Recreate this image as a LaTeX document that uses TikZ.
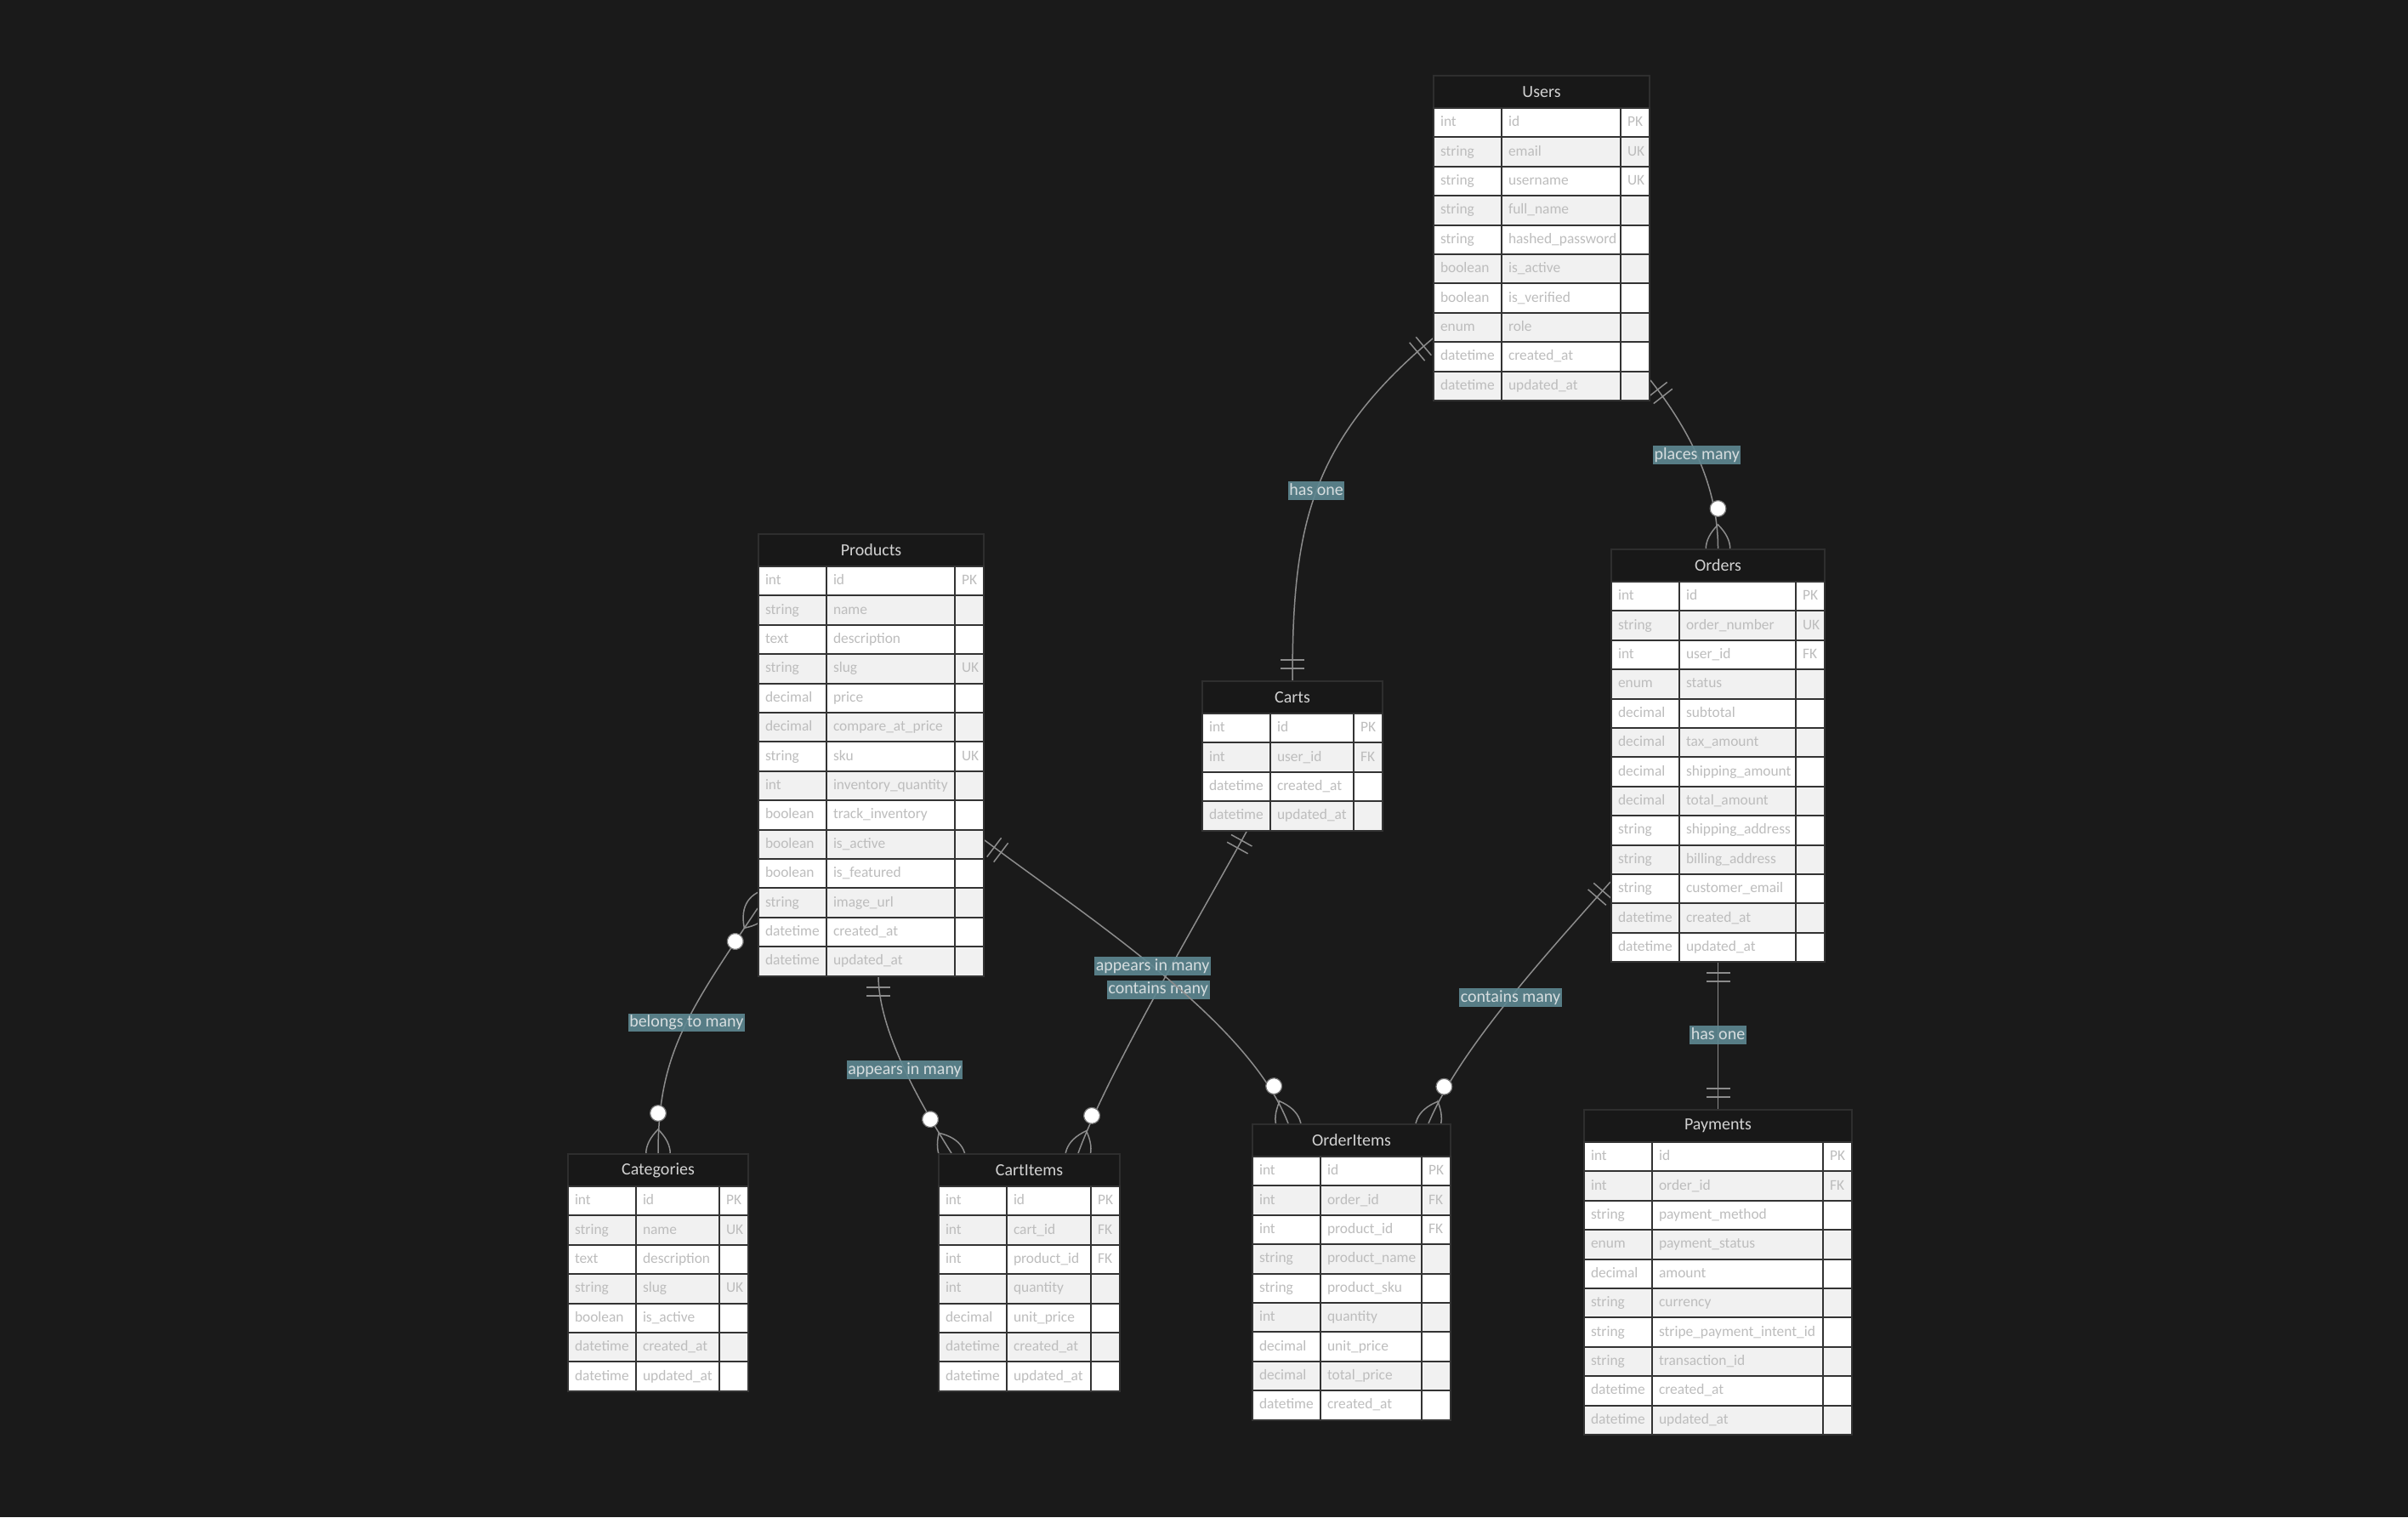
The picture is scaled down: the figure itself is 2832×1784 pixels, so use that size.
\documentclass[tikz,border=0pt]{standalone}
\usepackage{fontspec}
\setmainfont{Carlito}
\usepackage{tikz}
\usetikzlibrary{calc}

\definecolor{bgdark}{HTML}{1A1A1A}
\definecolor{headfill}{HTML}{181818}
\definecolor{headline}{HTML}{2E2E2E}
\definecolor{headtext}{HTML}{D2D2D2}
\definecolor{rowgray}{HTML}{F1F1F1}
\definecolor{cellline}{HTML}{333333}
\definecolor{celltext}{HTML}{BDBDBD}
\definecolor{relgray}{HTML}{8C8C8C}
\definecolor{dotline}{HTML}{777777}
\definecolor{labelteal}{RGB}{94,136,146}
\definecolor{labeltext}{HTML}{D6DDDF}

\pgfdeclarelayer{bg}
\pgfdeclarelayer{edges}
\pgfsetlayers{bg,edges,main}

\tikzset{
  header/.style={draw=headline, line width=1pt, fill=headfill, text=headtext,
    font=\fontsize{10}{12}\selectfont, minimum height=19pt, inner sep=0pt, anchor=north west},
  cell/.style={draw=cellline, line width=1pt, text=celltext, font=\fontsize{8.7}{10}\selectfont,
    minimum height=17.2pt, inner xsep=4pt, inner ysep=0pt, align=left,
    text height=6.2pt, text depth=1.8pt, anchor=north west},
  relline/.style={draw=relgray, line width=0.75pt},
  edgelabel/.style={fill=labelteal, fill opacity=0.9, text opacity=1, text=labeltext,
    font=\fontsize{10}{12}\selectfont, inner xsep=0.8pt, inner ysep=0.6pt,
    text height=7.4pt, text depth=2.2pt},
  onlyone/.pic={\draw[relline] (14,-14) -- (14,14) (24,-14) -- (24,14);},
  zeromany/.pic={
    \draw[relline] (28,0) .. controls (9,19) and (-10,19) .. (-29,0)
      .. controls (-10,-19) and (9,-19) .. cycle;
    \draw[draw=dotline, fill=white, line width=0.6pt] (47,0) circle [radius=4.7pt];
  }
}

\newcommand{\drawEntity}[6]{
    % Draw the header
    \pgfmathsetmacro{\entw}{(80+#5+34)*0.5}
    \node[header, minimum width=\entw pt] (#1) at (#3,#4) {#2};

    % Draw the rows
    \pgfmathsetmacro{\namew}{#5*0.5-8}
    \foreach \t/\n/\k [count=\i] in {#6} {
      \pgfmathsetmacro{\rowy}{#4+38+34.4*(\i-1)}
      \ifodd\i \def\rowfill{white}\else \def\rowfill{rowgray}\fi
      \node[cell, fill=\rowfill, text width=32pt] (#1-\i-a) at (#3,\rowy) {\t};
      \node[cell, fill=\rowfill, text width=\namew pt] (#1-\i-b) at (#3+80,\rowy) {\mbox{\n}};
      \node[cell, fill=\rowfill, text width=9pt] (#1-\i-c) at (#3+80+#5,\rowy) {\k};
    }
}

\begin{document}
\begin{tikzpicture}[x=0.5pt, y=-0.5pt]
  % Draw the background
  \begin{pgfonlayer}{bg}
    \fill[bgdark] (0,0) rectangle (2832,1784);
  \end{pgfonlayer}

  % Draw the entities
  \drawEntity{users}{Users}{1685}{88}{140}{int/id/PK,string/email/UK,string/username/UK,
    string/full\_name/,string/hashed\_password/,boolean/is\_active/,boolean/is\_verified/,
    enum/role/,datetime/created\_at/,datetime/updated\_at/}
  \drawEntity{products}{Products}{891}{627}{151}{int/id/PK,string/name/,text/description/,
    string/slug/UK,decimal/price/,decimal/compare\_at\_price/,string/sku/UK,
    int/inventory\_quantity/,boolean/track\_inventory/,boolean/is\_active/,
    boolean/is\_featured/,string/image\_url/,datetime/created\_at/,datetime/updated\_at/}
  \drawEntity{carts}{Carts}{1413}{800}{98}{int/id/PK,int/user\_id/FK,
    datetime/created\_at/,datetime/updated\_at/}
  \drawEntity{orders}{Orders}{1894}{645}{137}{int/id/PK,string/order\_number/UK,
    int/user\_id/FK,enum/status/,decimal/subtotal/,decimal/tax\_amount/,
    decimal/shipping\_amount/,decimal/total\_amount/,string/shipping\_address/,
    string/billing\_address/,string/customer\_email/,datetime/created\_at/,datetime/updated\_at/}
  \drawEntity{categories}{Categories}{667}{1356}{98}{int/id/PK,string/name/UK,
    text/description/,string/slug/UK,boolean/is\_active/,datetime/created\_at/,
    datetime/updated\_at/}
  \drawEntity{cartitems}{CartItems}{1103}{1356}{99}{int/id/PK,int/cart\_id/FK,
    int/product\_id/FK,int/quantity/,decimal/unit\_price/,datetime/created\_at/,
    datetime/updated\_at/}
  \drawEntity{orderitems}{OrderItems}{1472}{1321}{119}{int/id/PK,int/order\_id/FK,
    int/product\_id/FK,string/product\_name/,string/product\_sku/,int/quantity/,
    decimal/unit\_price/,decimal/total\_price/,datetime/created\_at/}
  \drawEntity{payments}{Payments}{1862}{1304}{201}{int/id/PK,int/order\_id/FK,
    string/payment\_method/,enum/payment\_status/,decimal/amount/,string/currency/,
    string/stripe\_payment\_intent\_id/,string/transaction\_id/,
    datetime/created\_at/,datetime/updated\_at/}

  % Points where the relationships meet the entities
  \coordinate (u-c) at ($(users.north west)+(0,310)$);
  \coordinate (c-u) at (carts.north);
  \coordinate (u-o) at ($(users.north east)+(0,359)$);
  \coordinate (o-u) at (orders.north);
  \coordinate (p-k) at ($(products.north west)+(0,441)$);
  \coordinate (k-p) at (categories.north);
  \coordinate (p-ci) at ($(products.north west)+(142,520)$);
  \coordinate (ci-p) at ($(cartitems.north west)+(16,0)$);
  \coordinate (c-ci) at ($(carts.north west)+(54,176)$);
  \coordinate (ci-c) at ($(cartitems.north west)+(165,0)$);
  \coordinate (p-oi) at ($(products.north east)+(0,361)$);
  \coordinate (oi-p) at ($(orderitems.north west)+(43,0)$);
  \coordinate (o-oi) at ($(orders.north west)+(0,392)$);
  \coordinate (oi-o) at ($(orderitems.north west)+(208,0)$);
  \coordinate (o-pay) at ($(orders.north)+(0,485)$);
  \coordinate (pay-o) at (payments.north);

  % Draw the relationships
  \begin{pgfonlayer}{edges}
    \draw[relline] (u-c) .. controls +(-145,122) and +(0,-180) .. (c-u)
      node[edgelabel, pos=0.5] {has one};
    \pic[rotate=220] at (u-c) {onlyone};
    \pic[rotate=90] at (c-u) {onlyone};

    \draw[relline] (u-o) .. controls +(35,45) and +(0,-85) .. (o-u)
      node[edgelabel, pos=0.52] {places many};
    \pic[rotate=-52] at (u-o) {onlyone};
    \pic[rotate=90] at (o-u) {zeromany};

    \draw[relline] (p-k) .. controls +(-83,124) and +(0,-116) .. (k-p)
      node[edgelabel, pos=0.45] {belongs to many};
    \pic[rotate=236] at (p-k) {zeromany};
    \pic[rotate=90] at (k-p) {zeromany};

    \draw[relline] (p-ci) .. controls +(0,68) and +(-32,-51) .. (ci-p)
      node[edgelabel, pos=0.5] {appears in many};
    \pic[rotate=-90] at (p-ci) {onlyone};
    \pic[rotate=122] at (ci-p) {zeromany};

    \draw[relline] (c-ci) .. controls +(-48,88) and +(34,-94) .. (ci-c)
      node[edgelabel, pos=0.5] {contains many};
    \pic[rotate=241] at (c-ci) {onlyone};
    \pic[rotate=70] at (ci-c) {zeromany};

    \draw[relline] (p-oi) .. controls +(120,90) and +(-47,-121) .. (oi-p)
      node[edgelabel, pos=0.48] {appears in many};
    \pic[rotate=-37] at (p-oi) {onlyone};
    \pic[rotate=111] at (oi-p) {zeromany};

    \draw[relline] (o-oi) .. controls +(-66,75) and +(38,-91) .. (oi-o)
      node[edgelabel, pos=0.5] {contains many};
    \pic[rotate=229] at (o-oi) {onlyone};
    \pic[rotate=67] at (oi-o) {zeromany};

    \draw[relline] (o-pay) -- (pay-o) node[edgelabel, midway] {has one};
    \pic[rotate=-90] at (o-pay) {onlyone};
    \pic[rotate=90] at (pay-o) {onlyone};
  \end{pgfonlayer}
\end{tikzpicture}
\end{document}
